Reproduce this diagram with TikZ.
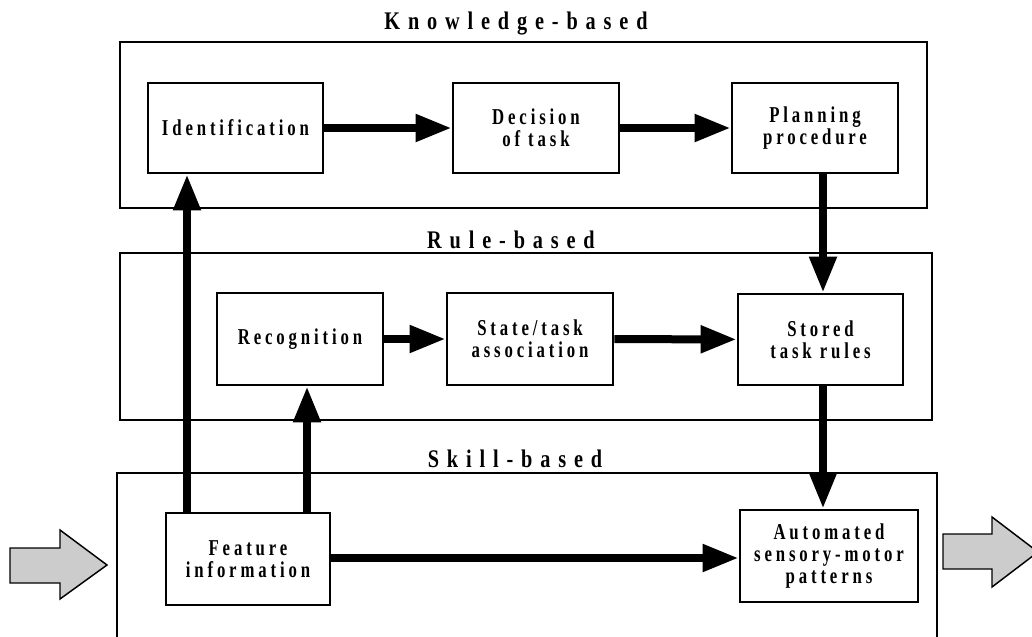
\documentclass[tikz,border=0pt]{standalone}
\usepackage{fontspec}
\setmainfont{Liberation Serif}
\newfontfamily\boxfont{Liberation Serif Bold}[FakeStretch=0.74,LetterSpace=17]
\newfontfamily\titlefont{Liberation Serif Bold}[FakeStretch=0.8,LetterSpace=31]
\usetikzlibrary{arrows.meta}

\begin{document}
\begin{tikzpicture}[x=0.75pt,y=-0.75pt,
  level/.style={draw,line width=1.9pt,inner sep=0pt},
  stepbox/.style={draw,line width=2.1pt,inner sep=0pt,align=center,
    font=\boxfont\fontsize{17}{16.5}\selectfont},
  % a box spanning from corner (#1,#2) to corner (#3,#4)
  span/.style n args={4}{minimum width={(#3-#1)*0.75pt},
    minimum height={(#4-#2)*0.75pt},at={({(#1+#3)/2},{(#2+#4)/2})}},
  leveltitle/.style={anchor=base,inner sep=0pt,
    font=\titlefont\fontsize{19}{20}\selectfont},
  flow/.style={line width=6pt,-{Triangle[length=27pt,width=19.5pt]}},
  bigarrow/.style={draw,line width=1.1pt,fill=black!20,line join=miter},
]
\useasboundingbox (0,0) rectangle (1032,636);

% the three levels of behaviour
\draw[level] (120,42) rectangle (927,208);
\draw[level,line width=1.4pt] (120,253) rectangle (932,420);
\draw[level] (117,473) rectangle (937,660);

\node[leveltitle] (tknow)  at (516,29)  {Knowledge-based};
\node[leveltitle] (trule)  at (511,248) {Rule-based};
\node[leveltitle] (tskill) at (515,467) {Skill-based};

% knowledge-based steps
\node[stepbox,span={148}{83}{323}{173}] (ident) {Identification};
\node[stepbox,span={453}{83}{619}{173}] (decision) {Decision\\of task};
\node[stepbox,span={732}{83}{898}{173}] (plan) {Planning\\procedure};

% rule-based steps
\node[stepbox,span={217}{293}{383}{385}] (recog) {Recognition};
\node[stepbox,span={447}{293}{613}{385}] (assoc) {State/task\\association};
\node[stepbox,span={738}{294}{903}{385}] (stored) {Stored\\task rules};

% skill-based steps
\node[stepbox,span={166}{513}{330}{605}] (feature) {Feature\\information};
\node[stepbox,span={740}{510}{918}{602}] (auto) {Automated\\sensory-motor\\patterns};

% connectors
\draw[flow] (ident) -- (decision);
\draw[flow] (decision) -- (plan);
\draw[flow] (recog) -- (assoc);
\draw[flow] (assoc) -- (stored);
\draw[flow] (plan.south -| 823,0) -- (stored.north -| 823,0);
\draw[flow] (stored.south -| 823,0) -- (auto.north -| 823,0);
\draw[flow] (feature.east |- 0,558) -- (auto.west |- 0,558);
\draw[flow] (feature.north -| 187,0) -- (ident.south -| 187,0);
\draw[flow] (feature.north -| 307,0) -- (recog.south -| 307,0);

% input and output
\draw[bigarrow] (10,548) -- (60,548) -- (60,530) -- (107,565) -- (60,599)
  -- (60,583) -- (10,583) -- cycle;
\draw[bigarrow] (943,534) -- (992,534) -- (992,517) -- (1038,552) -- (992,587)
  -- (992,569) -- (943,569) -- cycle;
\end{tikzpicture}
\end{document}
